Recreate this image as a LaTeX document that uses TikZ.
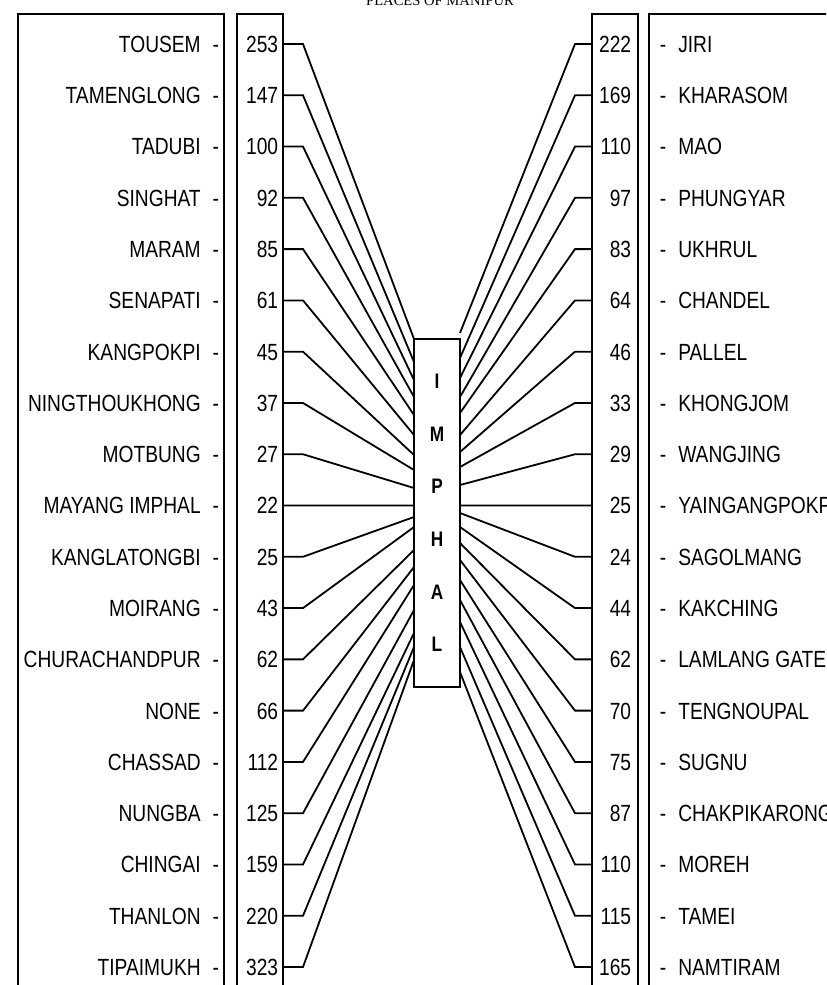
\documentclass[tikz,border=0pt]{standalone}
\usepackage{fontspec}
\setmainfont{Liberation Sans}[FakeStretch=0.82]
\newfontfamily\titlefont{Liberation Serif}
\usetikzlibrary{positioning}

\begin{document}
\begin{tikzpicture}[x=0.5pt,y=-0.5pt,line width=0.9pt,
        place/.style={font=\fontsize{11.7}{14}\selectfont,inner sep=0pt},
        box/.style={line width=1pt}]

  \useasboundingbox (0,0) rectangle (826,985);
  \clip (0,0) rectangle (826,985);

  \node[font=\titlefont\fontsize{7.3}{9}\selectfont,anchor=base] (title) at (440,5) {PLACES OF MANIPUR};

  % the four open boxes
  \draw[box] (18,1100) |- (224,14) -- (224,1100);
  \draw[box] (237,1100) |- (283,14) -- (283,1100);
  \draw[box] (592,1100) |- (638,14) -- (638,1100);
  \draw[box] (649,1100) |- (900,14);

  \node[draw,box,minimum width=23pt,minimum height=174pt,inner sep=0pt,align=center,
        font=\bfseries\fontsize{10.5}{26.3}\selectfont] (imphal) at (437,513) {I\\M\\P\\H\\A\\L};

  % left side
  \foreach \name/\km/\e [count=\i from 0] in {TOUSEM/253/339,TAMENGLONG/147/362,
      TADUBI/100/380,SINGHAT/92/397,MARAM/85/415,SENAPATI/61/435,KANGPOKPI/45/455,
      NINGTHOUKHONG/37/470,MOTBUNG/27/488,MAYANG IMPHAL/22/505.5,KANGLATONGBI/25/517,
      MOIRANG/43/527,CHURACHANDPUR/62/550,NONE/66/567,CHASSAD/112/585,NUNGBA/125/610,
      CHINGAI/159/633,THANLON/220/647,TIPAIMUKH/323/660}{
    \pgfmathsetmacro\ry{44+\i*51.28}
    \node[place,anchor=base east] (l_\i) at (220,\ry+8.35) {\name\hspace{6pt}-};
    \node[place,anchor=base east] (lk_\i) at (279,\ry+8.35) {\km};
    \coordinate (ls_\i) at (283,\ry);
    \coordinate (le_\i) at (414,\e);
    \draw (ls_\i) -- ++(20,0) -- (le_\i);
  }

  % right side
  \foreach \name/\km/\e [count=\i from 0] in {JIRI/222/333,KHARASOM/169/358,MAO/110/378,
      PHUNGYAR/97/397,UKHRUL/83/413,CHANDEL/64/435,PALLEL/46/452,KHONGJOM/33/467,
      WANGJING/29/485,YAINGANGPOKPI/25/505.5,SAGOLMANG/24/513,KAKCHING/44/527,
      LAMLANG GATE/62/543,TENGNOUPAL/70/560,SUGNU/75/580,CHAKPIKARONG/87/600,
      MOREH/110/622,TAMEI/115/647,NAMTIRAM/165/672}{
    \pgfmathsetmacro\ry{44+\i*51.28}
    \node[place,anchor=base west] (r_\i) at (659,\ry+8.35) {-\hspace{6pt}\name};
    \node[place,anchor=base east] (rk_\i) at (632,\ry+8.35) {\km};
    \coordinate (rs_\i) at (592,\ry);
    \coordinate (re_\i) at (460,\e);
    \draw (rs_\i) -- ++(-17,0) -- (re_\i);
  }

\end{tikzpicture}
\end{document}
